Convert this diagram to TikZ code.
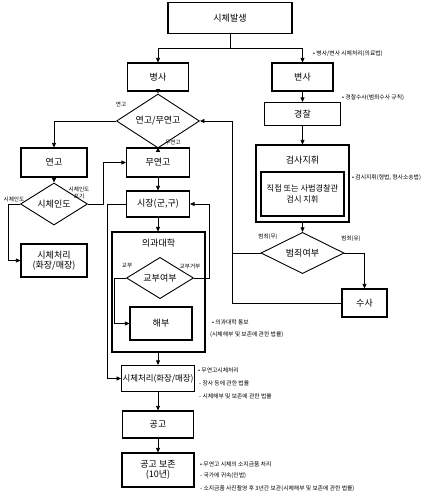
\documentclass[tikz,border=0pt]{standalone}
\usepackage{fontspec}
\setmainfont{Noto Sans CJK KR}
\usetikzlibrary{shapes.geometric,arrows.meta}
\begin{document}
\begin{tikzpicture}[x=1pt,y=-1pt,
 box/.style={draw, line width=1.1pt, inner sep=1pt, align=center, font=\fontsize{9}{10.5}\selectfont},
 dia/.style={diamond, draw, line width=0.9pt, inner sep=0pt, font=\fontsize{9}{10}\selectfont},
 txt/.style={inner sep=0pt, font=\fontsize{9}{10}\selectfont},
 lbl/.style={font=\fontsize{5.6}{6.5}\selectfont, inner sep=0pt, align=center},
 note/.style={font=\fontsize{5.8}{6.5}\selectfont, inner sep=0pt, anchor=west},
 arr/.style={-{Triangle[length=4.5pt,width=4pt]}, line width=0.7pt},
 ln/.style={line width=0.7pt}]
\useasboundingbox (0,0) rectangle (427,500);
% nodes
\node[box, minimum width=124pt, minimum height=31pt] (start) at (230,18) {시체발생};
\node[box, minimum width=61pt, minimum height=28pt] (bs) at (158,77) {병사};
\node[box, minimum width=61pt, minimum height=28pt] (bj) at (302.5,77) {변사};
\node[box, minimum width=76pt, minimum height=23pt] (police) at (302.5,114) {경찰};
\node[box, minimum width=93pt, minimum height=77pt] (gs) at (302.5,183.5) {};
\node[txt] (gslbl) at (302.5,160) {검사지휘};
\node[box, minimum width=83pt, minimum height=44pt, font=\fontsize{8.2}{10.5}\selectfont] (gsin) at (302.5,194) {직접 또는 사법경찰관\\검시 지휘};
\node[dia, minimum width=83pt, minimum height=34pt] (crime) at (302.5,253) {범죄여부};
\node[box, minimum width=45pt, minimum height=28pt] (susa) at (364.5,303) {수사};
\node[dia, minimum width=83pt, minimum height=31pt] (yd) at (158,121) {연고/무연고};
\node[box, minimum width=66pt, minimum height=29pt] (yg) at (54,162.5) {연고};
\node[dia, minimum width=67pt, minimum height=42pt] (sd) at (54,204) {시체인도};
\node[box, minimum width=66pt, minimum height=33pt] (sc1) at (54,260.5) {시체처리\\(화장/매장)};
\node[box, minimum width=63pt, minimum height=29pt] (mu) at (158,162.5) {무연고};
\node[box, minimum width=63pt, minimum height=26pt] (sj) at (158,204) {시장(군,구)};
\node[box, minimum width=93pt, minimum height=120pt] (med) at (158.5,292) {};
\node[txt] (medlbl) at (158.5,243) {의과대학};
\node[dia, minimum width=67pt, minimum height=33pt] (gb) at (160,278) {교부여부};
\node[box, minimum width=62pt, minimum height=33pt] (hb) at (161,323.5) {해부};
\node[box, minimum width=71pt, minimum height=26pt, font=\fontsize{8.4}{10}\selectfont] (sc2) at (158,378.5) {시체처리(화장/매장)};
\node[box, minimum width=71pt, minimum height=27pt] (gg) at (158,424.5) {공고};
\node[box, minimum width=72pt, minimum height=34pt] (bz) at (158,470) {공고 보존\\(10년)};
% connectors
\coordinate (sp) at (230,48);
\coordinate (rj) at (232,121);
\draw[ln] (start.south) -- (sp);
\draw[arr] (sp) -| (bs.north);
\draw[arr] (sp) -| (bj.north);
\draw[arr] (bs.south) -- (yd.north);
\draw[arr] (bj.south) -- (police.north);
\draw[arr] (police.south) -- (gs.north);
\draw[arr] (gs.south) -- (crime.north);
\draw[arr] (crime.east) -| (susa.north);
\draw[ln] (crime.west) -- (crime.west -| rj);
\draw[arr] (susa.west) -| (rj) -- (yd.east);
\draw[arr] (yd.west) -| (yg.north);
\draw[arr] (yd.south) -- (mu.north);
\draw[arr] (yg.south) -- (sd.north);
\draw[arr] (sd.east) -- ++(15,0) |- (mu.west);
\draw[arr] (sd.west) -- ++(-12,0) |- (sc1.west);
\draw[arr] (mu.south) -- (sj.north);
\draw[arr] (sj.south) -- (sj.south |- med.north);
\draw[ln] (sj.west) -- ++(-18.5,0) coordinate (sjl);
\draw[arr] (sjl) |- (sc2.west);
\draw[arr] (gb.east) -- ++(15.5,0) |- (sj.east);
\draw[arr] (gb.west) -- ++(-11.5,0) |- (hb.west);
\draw[arr] (sc2.north |- med.south) -- (sc2.north);
\draw[arr] (sc2.south) -- (gg.north);
\draw[arr] (gg.south) -- (bz.north);
% labels
\node[lbl] (l1) at (121,104) {연고};
\node[lbl] (l2) at (173,142) {무연고};
\node[lbl] (l3) at (14,199) {시체인도};
\node[lbl] (l4) at (79,193) {시체인도\\포기};
\node[lbl] (l5) at (127,266) {교부};
\node[lbl] (l6) at (190,266) {교부거부};
\node[lbl] (l7) at (268,237) {범죄(무)};
\node[lbl] (l8) at (351,239) {범죄(유)};
% notes
\node[note] (n1) at (313,54) {• 병사/변사 시체처리(의료법)};
\node[note] (n2) at (342,98) {• 경찰수사(범죄수사 규칙)};
\node[note] (n3) at (352,178) {• 검시지휘(형법, 형사소송법)};
\node[note] (n4) at (212,322) {• 의과대학 통보};
\node[note] (n5) at (210,335) {(시체해부 및 보존에 관한 법률)};
\node[note] (n6) at (198,370) {• 무연고시체처리};
\node[note] (n7) at (199,383) {- 장사 등에 관한 법률};
\node[note] (n8) at (199,396) {- 시체해부 및 보존에 관한 법률};
\node[note] (n9) at (200,464) {• 무연고 시체의 소지금품 처리};
\node[note] (n10) at (200,476) {- 국가에 귀속(민법)};
\node[note] (n11) at (200,489) {- 소지금품 사진촬영 후 3년간 보관(시체해부 및 보존에 관한 법률)};
\end{tikzpicture}
\end{document}
